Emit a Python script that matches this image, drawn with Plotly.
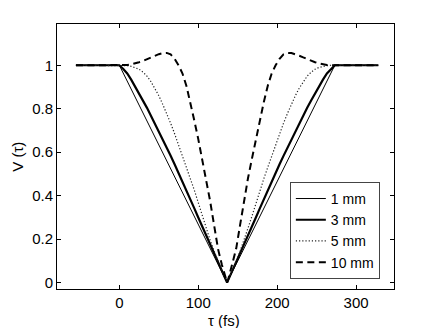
import plotly.graph_objects as go

# delay axis (fs)
tau_1mm = [-55, 0, 136.5, 273, 328]
v_1mm = [1.0, 1.0, 0.0, 1.0, 1.0]

tau = [-55, 0, 5, 10, 15, 20, 25, 30, 35, 40, 45, 50, 55, 60, 65, 70, 75, 80, 85, 90,
       95, 100, 105, 110, 115, 120, 125, 130, 135, 136.5,
       138, 143, 148, 153, 158, 163, 168, 173, 178, 183, 188, 193, 198, 203, 208,
       213, 218, 223, 228, 233, 238, 243, 248, 253, 258, 263, 268, 273, 328]

v_3mm = [1.0, 1.0, 0.983, 0.962, 0.934, 0.903, 0.872, 0.838, 0.804, 0.768, 0.732, 0.696,
         0.659, 0.621, 0.583, 0.544, 0.505, 0.464, 0.423, 0.383, 0.341, 0.299, 0.258,
         0.216, 0.175, 0.133, 0.092, 0.052, 0.012, 0.0,
         0.012, 0.052, 0.092, 0.133, 0.175, 0.216, 0.258, 0.299, 0.341, 0.383, 0.423,
         0.464, 0.505, 0.544, 0.583, 0.621, 0.659, 0.696, 0.732, 0.768, 0.804, 0.838,
         0.872, 0.903, 0.934, 0.962, 0.983, 1.0, 1.0]

v_5mm = [1.0, 1.0, 1.0, 0.998, 0.995, 0.99, 0.982, 0.968, 0.95, 0.925, 0.895, 0.86,
         0.82, 0.778, 0.733, 0.685, 0.635, 0.583, 0.53, 0.477, 0.425, 0.365, 0.305,
         0.25, 0.195, 0.145, 0.097, 0.053, 0.013, 0.0,
         0.013, 0.053, 0.097, 0.145, 0.195, 0.25, 0.305, 0.365, 0.425, 0.477, 0.53,
         0.583, 0.635, 0.685, 0.733, 0.778, 0.82, 0.86, 0.895, 0.925, 0.95, 0.968,
         0.982, 0.99, 0.995, 0.998, 1.0, 1.0, 1.0]

v_10mm = [1.0, 1.0, 1.0, 1.001, 1.004, 1.008, 1.014, 1.02, 1.028, 1.036, 1.044, 1.051,
          1.056, 1.057, 1.05, 1.03, 1.0, 0.962, 0.905, 0.83, 0.745, 0.66, 0.57, 0.48,
          0.375, 0.265, 0.155, 0.08, 0.015, 0.0,
          0.015, 0.08, 0.155, 0.265, 0.375, 0.48, 0.57, 0.66, 0.745, 0.83, 0.905,
          0.962, 1.0, 1.03, 1.05, 1.057, 1.056, 1.051, 1.044, 1.036, 1.028, 1.02,
          1.014, 1.008, 1.004, 1.001, 1.0, 1.0, 1.0]

labels = ["1 mm", "3 mm", "5 mm", "10 mm"]
x_ticks = [0, 100, 200, 300]
y_ticks = [0, 0.2, 0.4, 0.6, 0.8, 1]
y_tick_text = ["0", "0.2", "0.4", "0.6", "0.8", "1"]
x_title = "τ (fs)"
y_title = "V (τ)"

fig = go.Figure()
fig.add_trace(go.Scatter(x=tau_1mm, y=v_1mm, mode="lines", name=labels[0],
                         line=dict(color="black", width=1)))
fig.add_trace(go.Scatter(x=tau, y=v_3mm, mode="lines", name=labels[1],
                         line=dict(color="black", width=2.2)))
fig.add_trace(go.Scatter(x=tau, y=v_5mm, mode="lines", name=labels[2],
                         line=dict(color="#222", width=1.2, dash="1.2px,2px")))
fig.add_trace(go.Scatter(x=tau, y=v_10mm, mode="lines", name=labels[3],
                         line=dict(color="black", width=2, dash="7px,4.5px")))

font_family = "Liberation Sans, Arial, Helvetica, sans-serif"
axis_common = dict(showgrid=False, zeroline=False, showline=True, linecolor="black",
                   linewidth=1, mirror="ticks", ticks="inside", ticklen=4,
                   tickcolor="black", tickwidth=1, automargin=False,
                   tickfont=dict(family=font_family, size=15, color="black"))

# page body has an 8px default margin, so the figure is 8px smaller
fig.update_layout(
    width=428, height=320,
    margin=dict(l=49, r=42, t=16, b=39),
    paper_bgcolor="white", plot_bgcolor="white",
    font=dict(family=font_family, size=15, color="black"),
    xaxis=dict(range=[-79, 348], tickvals=x_ticks, **axis_common),
    yaxis=dict(range=[-0.03, 1.19], tickvals=y_ticks, ticktext=y_tick_text,
               **axis_common),
    legend=dict(x=0.958, y=0.038, xanchor="right", yanchor="bottom",
                bgcolor="white", bordercolor="#444", borderwidth=1,
                font=dict(family=font_family, size=14, color="black"),
                tracegroupgap=0, itemwidth=30),
    showlegend=True,
    annotations=[
        dict(text=x_title, xref="paper", yref="paper", x=0.495, y=-0.118,
             xanchor="center", yanchor="middle", showarrow=False,
             font=dict(family=font_family, size=15, color="black")),
        dict(text=y_title, xref="paper", yref="paper", x=-0.118, y=0.5,
             xanchor="center", yanchor="middle", showarrow=False, textangle=-90,
             font=dict(family=font_family, size=15, color="black")),
    ],
)

fig.write_html("out.html")
